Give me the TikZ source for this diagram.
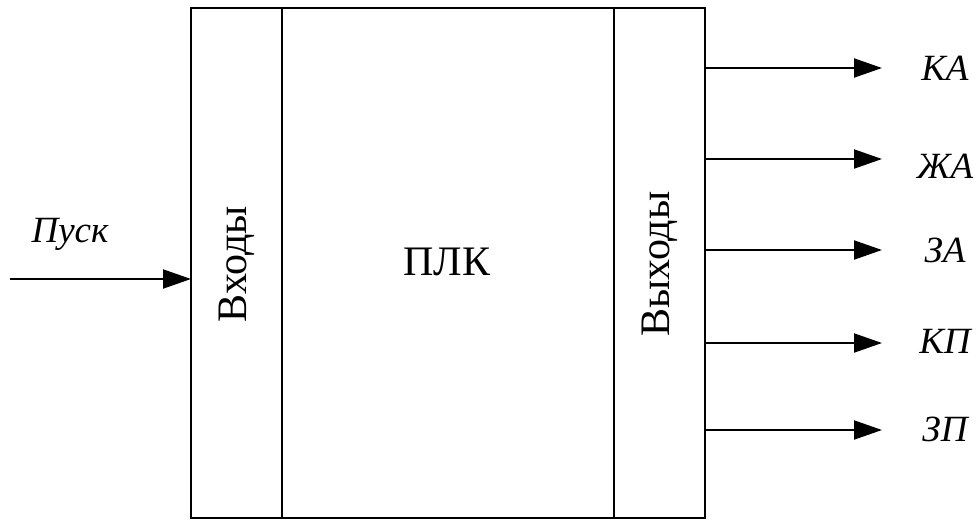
\documentclass[tikz,border=0pt]{standalone}
\usepackage{fontspec}
\setmainfont{Liberation Serif}
\usetikzlibrary{arrows.meta}
\begin{document}
\begin{tikzpicture}[x=1pt,y=-1pt,
  frame/.style={draw,line width=2pt},
  sig/.style={line width=2pt,-{Triangle[length=28pt,width=19pt]}},
  lbl/.style={font=\fontsize{37}{44}\selectfont\itshape,inner sep=0pt,anchor=base},
  blk/.style={font=\fontsize{42}{50}\selectfont,inner sep=0pt}]
\useasboundingbox (0,0) rectangle (978,522);
% PLC block with input and output sections
\draw[frame] (191,8) rectangle (705,518);
\draw[frame] (282,8) -- (282,518);
\draw[frame] (614,8) -- (614,518);
\coordinate (inL) at (191,279);
\node[blk,rotate=90] (inp) at (237,264) {Входы};
\node[blk] (plc) at (447,262) {ПЛК};
\node[blk,rotate=90] (outp) at (660,264) {Выходы};
% input signal
\coordinate (src) at (10,279);
\node[lbl] (start) at (70,242) {Пуск};
\draw[sig] (src) -- (inL);
% output signals
\foreach \y/\b/\t/\n in {68/80/КА/ka,159/178/ЖА/zha,250/262/ЗА/za,343/353/КП/kp,430/441/ЗП/zp}{
  \coordinate (o\n) at (705,\y);
  \coordinate (e\n) at (882,\y);
  \node[lbl] (l\n) at (945,\b) {\t};
  \draw[sig] (o\n) -- (e\n);
}
\end{tikzpicture}
\end{document}
